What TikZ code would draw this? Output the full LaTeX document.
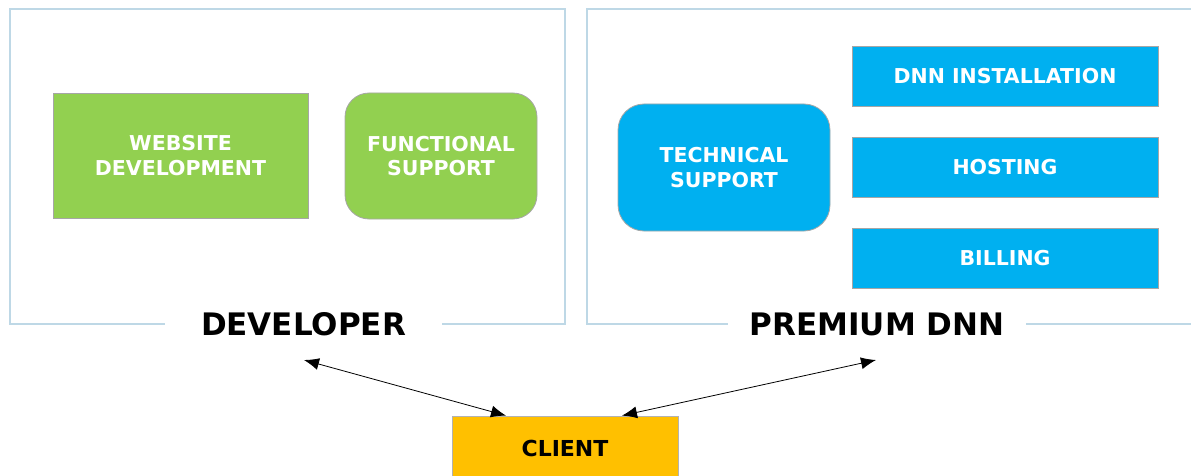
\documentclass[tikz,border=0pt]{standalone}
\usepackage{fontspec}
\setmainfont{DejaVu Sans}
\usepackage{xcolor}
\usepackage{tikz}
\usetikzlibrary{arrows.meta, positioning, calc}

\definecolor{devgreen}{HTML}{92D050}
\definecolor{dnnblue}{HTML}{00B0F0}
\definecolor{clientorange}{HTML}{FFC000}
\definecolor{frameblue}{RGB}{190,216,230}

\tikzstyle{arrow} = [line width=0.8pt,<->,>={Latex[length=15pt,width=12pt]}]
\tikzstyle{frame} = [draw=frameblue, line width=1.2pt]
\tikzstyle{title} = [fill=white, inner ysep=2pt, font=\fontsize{31}{36}\selectfont\bfseries]
\tikzstyle{service} = [draw=gray!70, line width=0.8pt, text=white, align=center, inner sep=0pt,
  font=\fontsize{20.5}{24.5}\selectfont\bfseries]

\begin{document}
\begin{tikzpicture}[x=1pt, y=-1pt]
\useasboundingbox (0,0) rectangle (1191,476);

% Developer section
\draw[frame] (10,9) rectangle (565,324);
\node[title, inner xsep=36pt] (devlabel) at (303.5,324.5) {DEVELOPER};

\node[service, fill=devgreen, minimum width=255pt, minimum height=125pt] (webdev) at (180.5,155.5) {WEBSITE\\DEVELOPMENT};
\node[service, fill=devgreen, rounded corners=24pt, minimum width=192pt, minimum height=126pt] (funcsup) at (441,156) {FUNCTIONAL\\SUPPORT};

% Premium DNN section
\draw[frame] (1200,9) -- (587,9) -- (587,324) -- (1200,324);
\node[title, inner xsep=22pt] (dnnlabel) at (877,324.5) {PREMIUM DNN};

\node[service, fill=dnnblue, rounded corners=26pt, minimum width=212pt, minimum height=127pt] (techsup) at (724,167.5) {TECHNICAL\\SUPPORT};
\node[service, fill=dnnblue, minimum width=306pt, minimum height=60pt] (install) at (1005,76) {DNN INSTALLATION};
\node[service, fill=dnnblue, minimum width=306pt, minimum height=60pt] (hosting) at (1005,167) {HOSTING};
\node[service, fill=dnnblue, minimum width=306pt, minimum height=60pt] (billing) at (1005,258) {BILLING};

% Client
\node[draw=gray!60, line width=0.8pt, fill=clientorange, minimum width=226pt, minimum height=64pt,
  font=\fontsize{22}{26}\selectfont\bfseries] (client) at (565,448) {CLIENT};

% Links
\coordinate (devlink) at (304,360);
\coordinate (dnnlink) at (876,360);
\draw[arrow] (devlink) -- ([xshift=-59pt]client.north);
\draw[arrow] (dnnlink) -- ([xshift=57pt]client.north);
\end{tikzpicture}
\end{document}
